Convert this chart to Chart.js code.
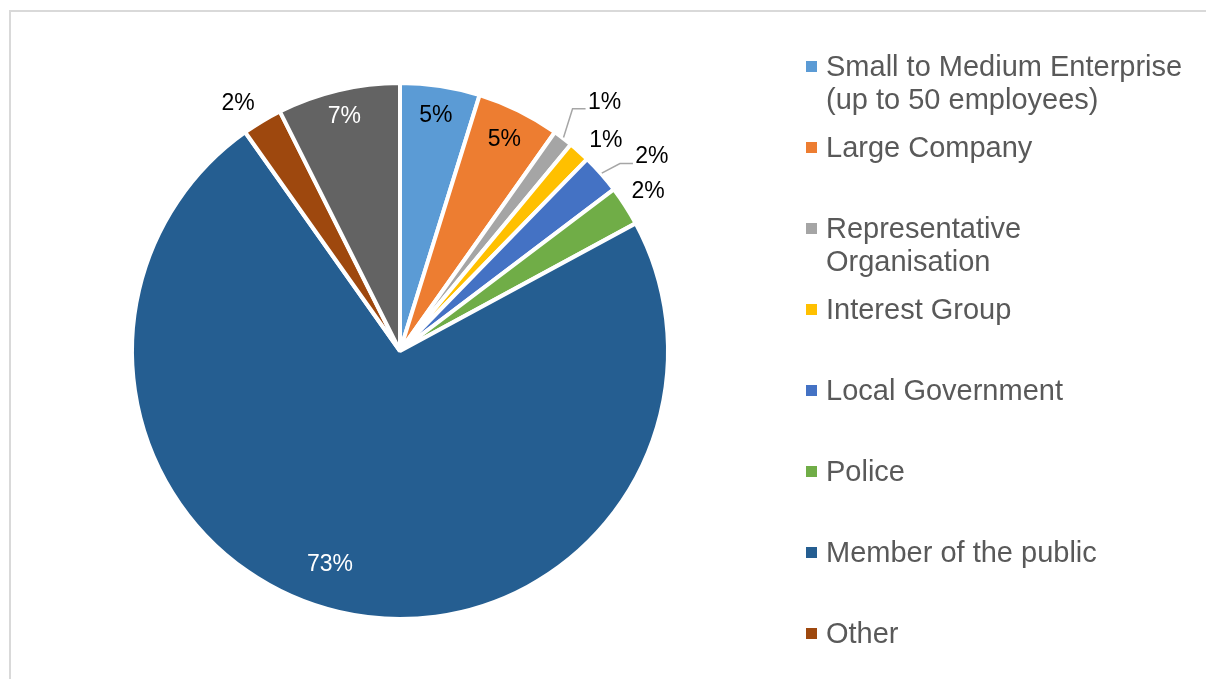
<!DOCTYPE html>
<html>
<head>
<meta charset="utf-8">
<script src="https://cdn.jsdelivr.net/npm/chart.js@4"></script>
<style>
  html, body { margin: 0; padding: 0; background: #fff; overflow: hidden; width: 1206px; height: 679px; }
  #frame { position: absolute; left: 9px; top: 10px; width: 1300px; height: 800px; border: 2px solid #d9d9d9; }
  #pieBox { position: absolute; left: 0; top: 0; width: 800px; height: 679px; }
  #legend { position: absolute; left: 0; top: 0; width: 1206px; height: 679px; pointer-events: none;
            font-family: "Liberation Sans", Arial, sans-serif; font-size: 29px; line-height: 33px; color: #595959; }
  .item { position: absolute; left: 826px; white-space: nowrap; }
  .swatch { position: absolute; left: -20px; top: 11px; width: 11px; height: 11px; }
</style>
</head>
<body>
<div id="frame"></div>
<div id="pieBox"><canvas id="respondents"></canvas></div>
<div id="legend"></div>
<script>
// respondent types, share of responses (%)
var categories = [
  ["Small to Medium Enterprise", "(up to 50 employees)"],
  ["Large Company"],
  ["Representative", "Organisation"],
  ["Interest Group"],
  ["Local Government"],
  ["Police"],
  ["Member of the public"],
  ["Other"],
  ["Not stated"]
];
var shares = [4.8, 5.0, 1.2, 1.3, 2.4, 2.4, 73.1, 2.4, 7.4];
var sliceColors = ["#5B9BD5", "#ED7D31", "#A5A5A5", "#FFC000", "#4472C4", "#70AD47", "#255E91", "#9E480E", "#636363"];
var labelColors = ["#000", "#000", "#000", "#000", "#000", "#000", "#fff", "#000", "#fff"];

// where each percentage goes: inside at a fraction of the radius, or outside past the rim
var labelLayout = [
  {frac: 0.89}, {frac: 0.88},
  {out: 54, turn: 2.0, leader: true},
  {out: 26, turn: 2.5},
  {out: 50, turn: 3.8, leader: true},
  {out: 27, turn: 0},
  {frac: 0.84, turn: 5},
  {out: 28, turn: -2.2},
  {frac: 0.90}
];

var total = shares.reduce(function (a, b) { return a + b; }, 0);

var pieLabels = {
  id: "pieLabels",
  afterDatasetsDraw: function (chart) {
    var ctx = chart.ctx;
    var arcs = chart.getDatasetMeta(0).data;
    ctx.save();
    ctx.font = "23px 'Liberation Sans', Arial, sans-serif";
    ctx.textAlign = "center";
    ctx.textBaseline = "middle";
    arcs.forEach(function (arc, i) {
      var p = arc.getProps(["x", "y", "startAngle", "endAngle", "outerRadius"], true);
      var lay = labelLayout[i];
      var a = (p.startAngle + p.endAngle) / 2 + (lay.turn || 0) * Math.PI / 180;
      var d = lay.frac ? p.outerRadius * lay.frac : p.outerRadius + lay.out;
      var lx = p.x + Math.cos(a) * d;
      var ly = p.y + Math.sin(a) * d;
      if (lay.leader) {
        var mid = (p.startAngle + p.endAngle) / 2;
        ctx.beginPath();
        ctx.strokeStyle = "#a6a6a6";
        ctx.lineWidth = 1.5;
        ctx.moveTo(p.x + Math.cos(mid) * (p.outerRadius + 1), p.y + Math.sin(mid) * (p.outerRadius + 1));
        ctx.lineTo(lx - 32, ly + 6.5);
        ctx.lineTo(lx - 19, ly + 6.5);
        ctx.stroke();
      }
      ctx.fillStyle = labelColors[i];
      ctx.fillText(Math.round(shares[i] / total * 100) + "%", lx, ly);
    });
    ctx.restore();
  }
};

new Chart("respondents", {
  type: "pie",
  data: {
    labels: categories,
    datasets: [{
      data: shares,
      backgroundColor: sliceColors,
      borderColor: "#fff",
      borderWidth: 4
    }]
  },
  options: {
    responsive: true,
    maintainAspectRatio: false,
    animation: false,
    events: [],
    layout: { padding: { left: 130, right: 130, top: 81, bottom: 58 } },
    plugins: {
      legend: { display: false },
      tooltip: { enabled: false }
    }
  },
  plugins: [pieLabels]
});

// legend on the right, one slot per category
var legend = document.getElementById("legend");
categories.forEach(function (lines, i) {
  var item = document.createElement("div");
  item.className = "item";
  item.style.top = (66 + i * 81 - 16.5) + "px";
  var sw = document.createElement("span");
  sw.className = "swatch";
  sw.style.background = sliceColors[i];
  item.appendChild(sw);
  lines.forEach(function (line, k) {
    if (k) item.appendChild(document.createElement("br"));
    item.appendChild(document.createTextNode(line));
  });
  legend.appendChild(item);
});
</script>
</body>
</html>
